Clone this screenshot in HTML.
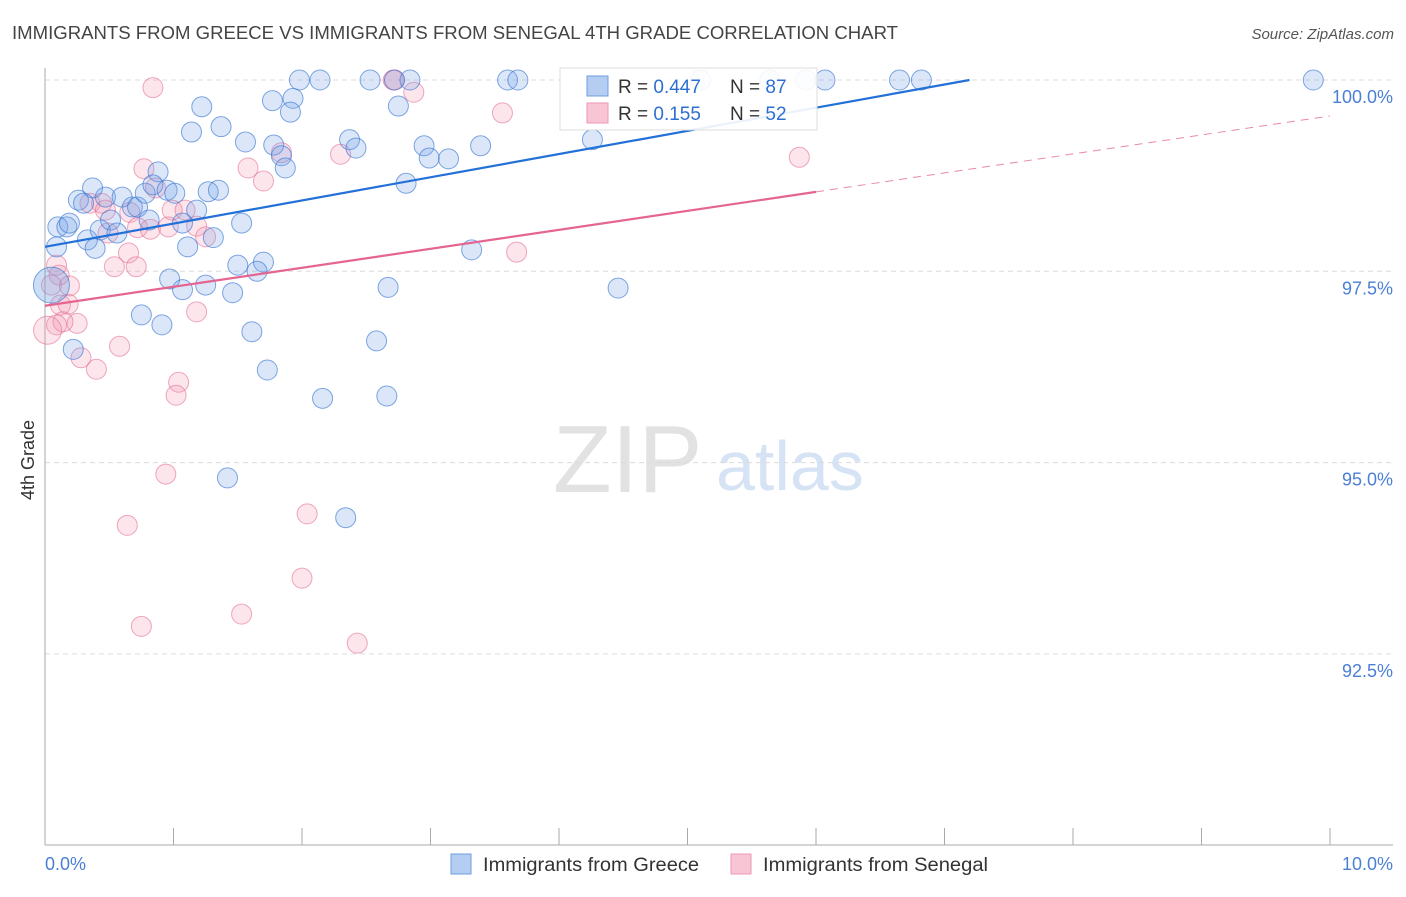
<!DOCTYPE html>
<html><head><meta charset="utf-8"><style>
body{margin:0;background:#fff;font-family:"Liberation Sans",sans-serif;}
svg text{font-family:"Liberation Sans",sans-serif;}
</style></head><body>
<svg id="chart" width="1406" height="892" viewBox="0 0 1406 892" xmlns="http://www.w3.org/2000/svg">
<text x="12" y="39" font-size="18" fill="#444" textLength="886" lengthAdjust="spacingAndGlyphs">IMMIGRANTS FROM GREECE VS IMMIGRANTS FROM SENEGAL 4TH GRADE CORRELATION CHART</text>
<text x="1394" y="39" font-size="15" fill="#555" text-anchor="end" font-style="italic">Source: ZipAtlas.com</text>
<g>
<text x="553" y="492" font-size="96" fill="#e2e2e2" font-family="Liberation Serif, serif">ZIP</text>
<text x="716" y="490" font-size="70" fill="#d6e3f5">atlas</text>
</g>
<g id="grid"></g>
<g id="axes"></g>
<g id="points"></g>
<g id="lines"></g>
<text transform="translate(34,460) rotate(-90)" font-size="18" fill="#333" text-anchor="middle">4th Grade</text>
<g>
<rect x="560" y="68" width="257" height="62" fill="#fff" fill-opacity="0.9" stroke="#ddd"/>
<rect x="587" y="76" width="21" height="20" fill="#b4cdf0" stroke="#6d9ee0"/>
<rect x="587" y="103" width="21" height="20" fill="#f8c5d4" stroke="#ec98b3"/>
<text x="618" y="93" font-size="19" fill="#333">R = <tspan fill="#2e6fd1">0.447</tspan></text>
<text x="730" y="93" font-size="19" fill="#333">N = <tspan fill="#2e6fd1">87</tspan></text>
<text x="618" y="120" font-size="19" fill="#333">R = <tspan fill="#2e6fd1"> 0.155</tspan></text>
<text x="730" y="120" font-size="19" fill="#333">N = <tspan fill="#2e6fd1">52</tspan></text>
</g>
<g>
<rect x="451" y="854" width="20" height="20" fill="#b4cdf0" stroke="#6d9ee0"/>
<text x="483" y="871" font-size="19" fill="#333" textLength="216" lengthAdjust="spacingAndGlyphs">Immigrants from Greece</text>
<rect x="731" y="854" width="20" height="20" fill="#f8c5d4" stroke="#ec98b3"/>
<text x="763" y="871" font-size="19" fill="#333" textLength="225" lengthAdjust="spacingAndGlyphs">Immigrants from Senegal</text>
</g>
</svg>
<script>
const yTicks=[100,97.5,95,92.5];
const yTickLabels=["100.0%","97.5%","95.0%","92.5%"];
const xTickCount=10;
const xTickLabels=["0.0%","10.0%"];
const greeceX=[1.98,2.14,2.53,2.72,2.84,3.60,3.68,5.10,5.64,5.92,6.07,6.65,6.82,9.87,1.22,1.77,1.93,1.91,2.75,1.14,1.37,1.56,1.78,1.84,1.87,2.37,2.42,2.95,2.99,3.14,3.39,4.26,2.81,0.10,0.17,0.19,0.33,0.39,0.43,0.47,0.37,0.26,0.30,0.51,0.60,0.56,0.68,0.72,0.78,0.88,0.84,0.95,1.01,0.81,1.07,1.18,1.11,1.27,1.35,1.31,1.53,1.50,1.70,1.65,1.25,1.07,0.97,1.46,0.75,0.91,1.61,2.58,2.67,1.73,0.22,3.32,4.46,2.16,2.66,1.42,2.34,0.09];
const greeceY=[100,100,100,100,100,100,100,100,100,100,100,100,100,100,99.65,99.73,99.76,99.58,99.66,99.32,99.39,99.19,99.15,99.01,98.85,99.22,99.11,99.14,98.98,98.97,99.14,99.22,98.65,98.08,98.08,98.13,97.91,97.80,98.04,98.47,98.59,98.43,98.39,98.17,98.47,98.00,98.34,98.34,98.52,98.80,98.63,98.56,98.52,98.17,98.13,98.30,97.82,98.54,98.56,97.94,98.13,97.58,97.62,97.50,97.32,97.26,97.40,97.22,96.93,96.80,96.71,96.59,97.29,96.21,96.48,97.78,97.28,95.84,95.87,94.80,94.28,97.82];
const greeceBigX=[0.05];
const greeceBigY=[97.32];
const senegalX=[0.84,2.71,2.72,2.87,3.56,5.87,0.77,1.58,1.70,1.84,2.30,0.86,0.35,0.44,0.66,0.47,0.99,1.09,0.72,0.49,0.82,0.96,1.18,1.25,0.65,0.54,0.71,3.67,0.09,0.11,0.19,0.12,0.18,0.25,0.14,0.09,1.18,0.58,0.28,0.40,1.04,1.02,0.94,0.64,2.04,2.00,1.53,0.75,2.43,0.05];
const senegalY=[99.90,100,100,99.84,99.57,98.99,98.84,98.85,98.68,99.05,99.03,98.59,98.39,98.39,98.27,98.30,98.30,98.30,98.07,98.00,98.05,98.08,98.09,97.95,97.74,97.56,97.56,97.75,97.58,97.45,97.31,97.06,97.07,96.82,96.84,96.80,96.97,96.52,96.37,96.22,96.05,95.88,94.85,94.18,94.33,93.49,93.02,92.86,92.64,97.32];
const senegalBigX=[0.02];
const senegalBigY=[96.73];
const greeceTrend=[97.82,0.303];
const senegalTrend=[97.05,0.248];

const X0=45,X1=1330,Y100=80,PXPER=76.52;
const sx=v=>X0+(X1-X0)*v/10;
const sy=v=>Y100+(100-v)*PXPER;
const NS="http://www.w3.org/2000/svg";
function mk(tag,attrs,parent){const e=document.createElementNS(NS,tag);for(const k in attrs)e.setAttribute(k,attrs[k]);parent.appendChild(e);return e;}
const grid=document.getElementById('grid'),axes=document.getElementById('axes'),pts=document.getElementById('points'),lines=document.getElementById('lines');
yTicks.forEach((t,i)=>{
 const l=mk('line',{x1:X0,x2:1393,y1:sy(t),y2:sy(t),stroke:'#dcdcdc','stroke-dasharray':'5,4'},grid);
 
 
 const tx=mk('text',{x:1393,y:sy(t)+23,'font-size':18,fill:'#4a7fd6','text-anchor':'end'},axes);
 tx.textContent=yTickLabels[i];
 
 
});
const la=mk('line',{x1:X0,x2:X0,y1:68,y2:845,stroke:'#aaa'},axes);


const lb=mk('line',{x1:X0,x2:1393,y1:845,y2:845,stroke:'#aaa'},axes);


for(let i=1;i<=xTickCount;i++){
 const t=mk('line',{x1:sx(i),x2:sx(i),y1:828,y2:845,stroke:'#aaa'},axes);
 
 
}
const xl0=mk('text',{x:45,y:870,'font-size':18,fill:'#4a7fd6'},axes);xl0.textContent=xTickLabels[0];


const xl1=mk('text',{x:1393,y:870,'font-size':18,fill:'#4a7fd6','text-anchor':'end'},axes);xl1.textContent=xTickLabels[1];


function dots(xs,ys,r,fill,stroke,name){
 xs.forEach((x,i)=>{
  const c=mk('circle',{cx:sx(x),cy:sy(ys[i]),r:r,fill:fill,stroke:stroke,'stroke-width':1},pts);
  
  
 });
}
dots(senegalX,senegalY,10,'rgba(240,140,170,0.22)','rgba(228,110,150,0.6)','senegal-point');
dots(senegalBigX,senegalBigY,14,'rgba(240,140,170,0.22)','rgba(228,110,150,0.6)','senegal-point');
dots(greeceX,greeceY,10,'rgba(110,160,230,0.25)','rgba(60,120,210,0.65)','greece-point');
dots(greeceBigX,greeceBigY,18,'rgba(110,160,230,0.35)','rgba(60,120,210,0.65)','greece-point');
const gxEnd=(100-greeceTrend[0])/greeceTrend[1];
const gl=mk('line',{x1:sx(0),y1:sy(greeceTrend[0]),x2:sx(gxEnd),y2:sy(100),stroke:'#2270d8','stroke-width':2.2},lines);


const sEnd=6.0;
const s1=mk('line',{x1:sx(0),y1:sy(senegalTrend[0]),x2:sx(sEnd),y2:sy(senegalTrend[0]+senegalTrend[1]*sEnd),stroke:'#e46590','stroke-width':2.2},lines);


const s2=mk('line',{x1:sx(sEnd),y1:sy(senegalTrend[0]+senegalTrend[1]*sEnd),x2:sx(10),y2:sy(senegalTrend[0]+senegalTrend[1]*10),stroke:'#e88aa8','stroke-width':1,'stroke-dasharray':'8,6'},lines);


</script>
</body></html>
